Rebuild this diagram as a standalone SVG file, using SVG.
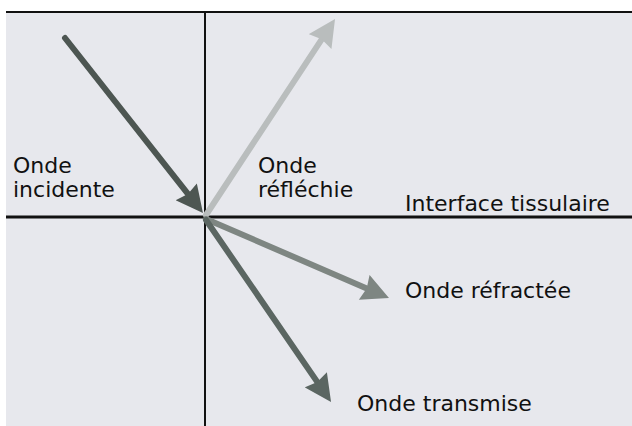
<svg xmlns="http://www.w3.org/2000/svg" width="632" height="426" viewBox="0 0 632 426">
  <style>
    .lbl { font-family: "DejaVu Sans", Verdana, sans-serif; font-size: 22px; fill: #111; }
    .axis { stroke: #111; fill: none; }
    .ray { fill: none; stroke-width: 6; stroke-linecap: round; }
  </style>
  <defs>
    <!-- arrowheads anchored mid-body so the round line cap stays hidden inside -->
    <marker id="headIncident" viewBox="0 0 10 10" refX="5" refY="5" markerWidth="4.7" markerHeight="4.5" orient="auto" markerUnits="strokeWidth">
      <path d="M0,0 L10,5 L0,10 L1,5 Z" fill="#4d5652"/>
    </marker>
    <marker id="headReflected" viewBox="0 0 10 10" refX="5" refY="5" markerWidth="4.7" markerHeight="4.5" orient="auto" markerUnits="strokeWidth">
      <path d="M0,0 L10,5 L0,10 L1,5 Z" fill="#b9bdbd"/>
    </marker>
    <marker id="headRefracted" viewBox="0 0 10 10" refX="5" refY="5" markerWidth="4.7" markerHeight="4.5" orient="auto" markerUnits="strokeWidth">
      <path d="M0,0 L10,5 L0,10 L1,5 Z" fill="#7e8682"/>
    </marker>
    <marker id="headTransmitted" viewBox="0 0 10 10" refX="5" refY="5" markerWidth="4.7" markerHeight="4.5" orient="auto" markerUnits="strokeWidth">
      <path d="M0,0 L10,5 L0,10 L1,5 Z" fill="#5b6662"/>
    </marker>
  </defs>

  <!-- page and panel background -->
  <rect x="0" y="0" width="632" height="426" fill="#ffffff"/>
  <rect x="6" y="11" width="626" height="415" fill="#e7e8ed"/>

  <!-- frame: top edge, normal and interface -->
  <g id="axes">
    <line class="axis" x1="6" y1="12" x2="632" y2="12" stroke-width="2" stroke="#3a3a3a"/>
    <line class="axis" x1="205" y1="12" x2="205" y2="426" stroke-width="2"/>
    <line class="axis" x1="6" y1="217" x2="632" y2="217" stroke-width="3" stroke="#17241a"/>
  </g>

  <!-- wave rays -->
  <g id="connectors">
    <line class="ray" x1="65" y1="38" x2="194.6" y2="202.4" stroke="#4d5652" marker-end="url(#headIncident)"/>
    <line class="ray" x1="206" y1="215" x2="327.6" y2="30.3" stroke="#b9bdbd" marker-end="url(#headReflected)"/>
    <line class="ray" x1="206" y1="219" x2="376.6" y2="292.7" stroke="#7e8682" marker-end="url(#headRefracted)"/>
    <line class="ray" x1="206" y1="220" x2="323.4" y2="390.9" stroke="#5b6662" marker-end="url(#headTransmitted)"/>
  </g>

  <g id="incident">
    <text class="lbl" x="13" y="173">Onde</text>
    <text class="lbl" x="13" y="197">incidente</text>
  </g>
  <g id="reflected">
    <text class="lbl" x="258" y="173">Onde</text>
    <text class="lbl" x="258" y="197">réfléchie</text>
  </g>
  <g id="interface">
    <text class="lbl" x="405" y="211">Interface tissulaire</text>
  </g>
  <g id="refracted">
    <text class="lbl" x="405" y="298">Onde réfractée</text>
  </g>
  <g id="transmitted">
    <text class="lbl" x="357" y="411">Onde transmise</text>
  </g>
</svg>
